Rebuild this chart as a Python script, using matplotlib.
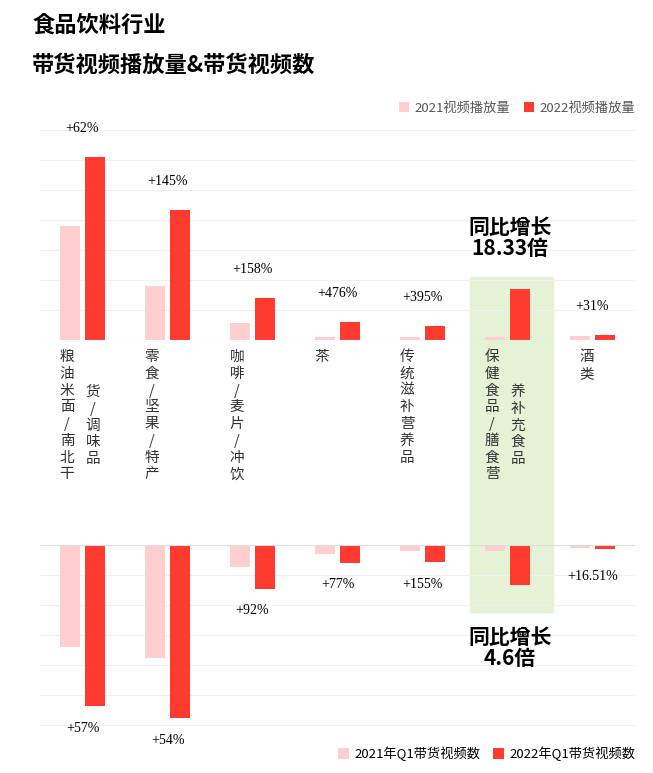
import matplotlib.pyplot as plt
from matplotlib.patches import Rectangle

plt.rcParams['font.family'] = ['Noto Sans CJK SC', 'Noto Sans CJK JP', 'DejaVu Sans']

categories = ["粮油米面/南北干货/调味品", "零食/坚果/特产", "咖啡/麦片/冲饮", "茶",
              "传统滋补营养品", "保健食品/膳食营养补充食品", "酒类"]
label_cols = [["粮油米面/南北干", "货/调味品"], ["零食/坚果/特产"], ["咖啡/麦片/冲饮"], ["茶"],
              ["传统滋补营养品"], ["保健食品/膳食营", "养补充食品"], ["酒类"]]
play_2021 = [114, 54, 17, 3.2, 3, 2.6, 4]
play_2022 = [183, 130, 42, 18, 14, 51, 5.2]
play_growth = ["+62%", "+145%", "+158%", "+476%", "+395%", "", "+31%"]
cnt_2021 = [102, 113, 22, 9, 6, 6, 3]
cnt_2022 = [161, 173, 44, 18, 17, 40, 4]
cnt_growth = ["+57%", "+54%", "+92%", "+77%", "+155%", "", "+16.51%"]

W, H = 653, 773
fig = plt.figure(figsize=(W / 100, H / 100), dpi=100)


def fx(px):
    return px / W


def fy(py):
    return 1 - py / H


light, dark = "#FFCFCF", "#FF3B30"
x = list(range(len(categories)))
bw = 0.23

# highlight band, behind the axes
fig.patches.append(Rectangle((fx(470), fy(612)), fx(83), (612 - 277) / H,
                             transform=fig.transFigure, color="#E5F2D6", zorder=-5))

ax1 = fig.add_axes([fx(40), fy(340), fx(595), (340 - 95) / H])
ax2 = fig.add_axes([fx(40), fy(735), fx(595), (735 - 545) / H])
for ax in (ax1, ax2):
    ax.set_facecolor("none")
    ax.set_xlim(-0.5, 6.5)
    for s in ax.spines.values():
        s.set_visible(False)
    ax.set_xticks([])
    ax.set_yticks([])

ax1.set_ylim(0, 245)
for g in range(0, 240, 30):
    ax1.axhline(g, color="#F0F0F0", lw=0.8, zorder=0)
ax1.axhline(0, color="#DDDDDD", lw=0.8)
ax1.bar([i - 0.15 for i in x], play_2021, bw, color=light, label="2021视频播放量")
ax1.bar([i + 0.15 for i in x], play_2022, bw, color=dark, label="2022视频播放量")
for i, t in enumerate(play_growth):
    if t:
        ax1.text(i, play_2022[i] + 22, t, ha="center", va="bottom",
                 fontsize=10, family="Liberation Serif")
ax1.legend(loc="upper right", bbox_to_anchor=(1.02, 1.02), ncol=2, frameon=False,
           fontsize=9.5, handlelength=0.8, handleheight=0.8, columnspacing=1.0,
           handletextpad=0.4, labelcolor="#555555")

ax2.set_ylim(190, 0)
for g in range(0, 190, 30):
    ax2.axhline(g, color="#F0F0F0", lw=0.8, zorder=0)
ax2.axhline(0, color="#DDDDDD", lw=0.8)
ax2.bar([i - 0.15 for i in x], cnt_2021, bw, color=light, label="2021年Q1带货视频数")
ax2.bar([i + 0.15 for i in x], cnt_2022, bw, color=dark, label="2022年Q1带货视频数")
for i, t in enumerate(cnt_growth):
    if t:
        ax2.text(i, max(cnt_2022[i], 10) + 22, t, ha="center", va="center",
                 fontsize=10, family="Liberation Serif")
ax2.legend(loc="lower right", bbox_to_anchor=(1.02, -0.2), ncol=2, frameon=False,
           fontsize=9.5, handlelength=0.8, handleheight=0.8, columnspacing=1.0,
           handletextpad=0.4)

# vertical category labels
centers = [80, 165, 250, 335, 420, 505, 600]
for c, cols in zip(centers, label_cols):
    if len(cols) == 2:
        xs = [c - 13, c + 13]
        ys = [350, 385]
    else:
        xs = [c - 13]
        ys = [350]
    for xx, yy, s in zip(xs, ys, cols):
        fig.text(fx(xx), fy(yy), "\n".join(s), ha="center", va="top",
                 fontsize=10.5, color="#333333", linespacing=1.25)

fig.text(fx(510), fy(238), "同比增长\n18.33倍", ha="center", va="center",
         fontsize=15, fontweight="bold", linespacing=1.0)
fig.text(fx(510), fy(648), "同比增长\n4.6倍", ha="center", va="center",
         fontsize=15, fontweight="bold", linespacing=1.0)

fig.text(fx(32), fy(25), "食品饮料行业", ha="left", va="center", fontsize=16, fontweight="bold")
fig.text(fx(32), fy(65), "带货视频播放量&带货视频数", ha="left", va="center",
         fontsize=16, fontweight="bold")

fig.savefig("out.png", dpi=100)
